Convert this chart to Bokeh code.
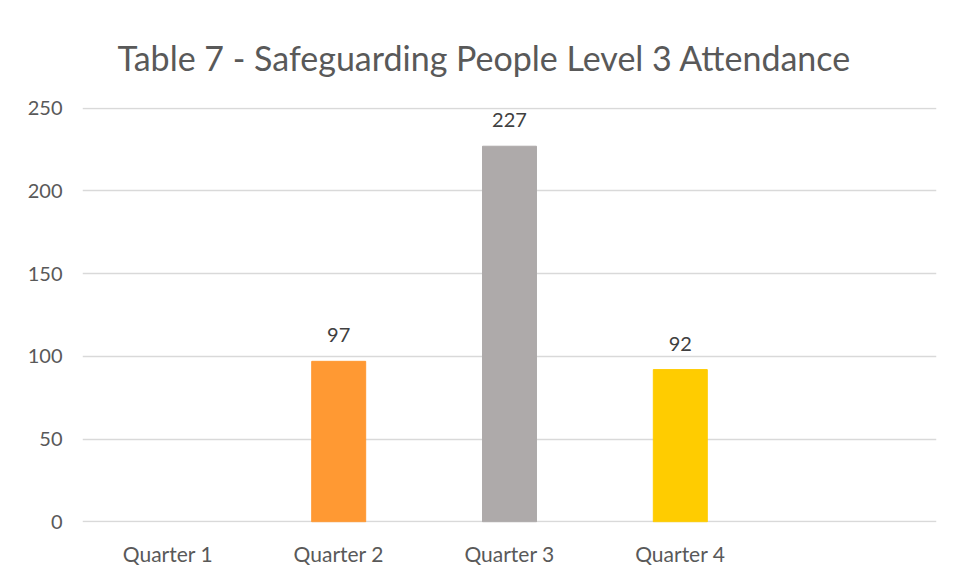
from bokeh.plotting import figure
from bokeh.models import Range1d, FactorRange, ColumnDataSource, LabelSet, FixedTicker
from bokeh.core.properties import value
from bokeh.embed import file_html
from bokeh.resources import INLINE

categories = ["Quarter 1", "Quarter 2", "Quarter 3", "Quarter 4", " "]
bar_categories = ["Quarter 2", "Quarter 3", "Quarter 4"]
bar_values = [97, 227, 92]
bar_colors = ["#FF9933", "#AEAAAA", "#FFCC00"]
y_ticks = [0, 50, 100, 150, 200, 250]
title_text = "Table 7 - Safeguarding People Level 3 Attendance"

FONT = "Lato"

p = figure(x_range=FactorRange(*categories, range_padding=0), y_range=Range1d(-0.4, 250.4),
           width=953, height=578, output_backend="svg", toolbar_location=None,
           title=title_text, min_border_left=82, min_border_right=17,
           min_border_top=107, min_border_bottom=56)

p.title.align = "left"
p.title.offset = 35
p.title.text_font = FONT
p.title.text_font_size = "34px"
p.title.text_font_style = "normal"
p.title.text_color = "#595959"
p.title.standoff = 59

src = ColumnDataSource(dict(x=bar_categories, top=bar_values, color=bar_colors,
                            label=[str(v) for v in bar_values]))
p.vbar(x="x", top="top", width=0.316, color="color", source=src)

labels = LabelSet(x="x", y="top", text="label", source=src, text_align="center",
                  text_baseline="bottom", y_offset=19, text_font=value(FONT),
                  text_font_size=value("20px"), text_color="#404040")
p.add_layout(labels)

p.yaxis.ticker = FixedTicker(ticks=y_ticks)
for ax in (p.xaxis, p.yaxis):
    ax.axis_line_color = None
    ax.major_tick_line_color = None
    ax.minor_tick_line_color = None
    ax.major_label_text_font = FONT
    ax.major_label_text_color = "#595959"
p.yaxis.major_label_text_font_size = "20px"
p.xaxis.major_label_text_font_size = "21px"
p.xaxis.major_label_standoff = 12
p.yaxis.major_label_standoff = 14

p.xgrid.grid_line_color = None
p.ygrid.grid_line_color = "#D9D9D9"
p.ygrid.grid_line_width = 1.5
p.outline_line_color = None
p.background_fill_color = "white"
p.border_fill_color = "white"

open("out.html", "w").write(file_html(p, INLINE))
